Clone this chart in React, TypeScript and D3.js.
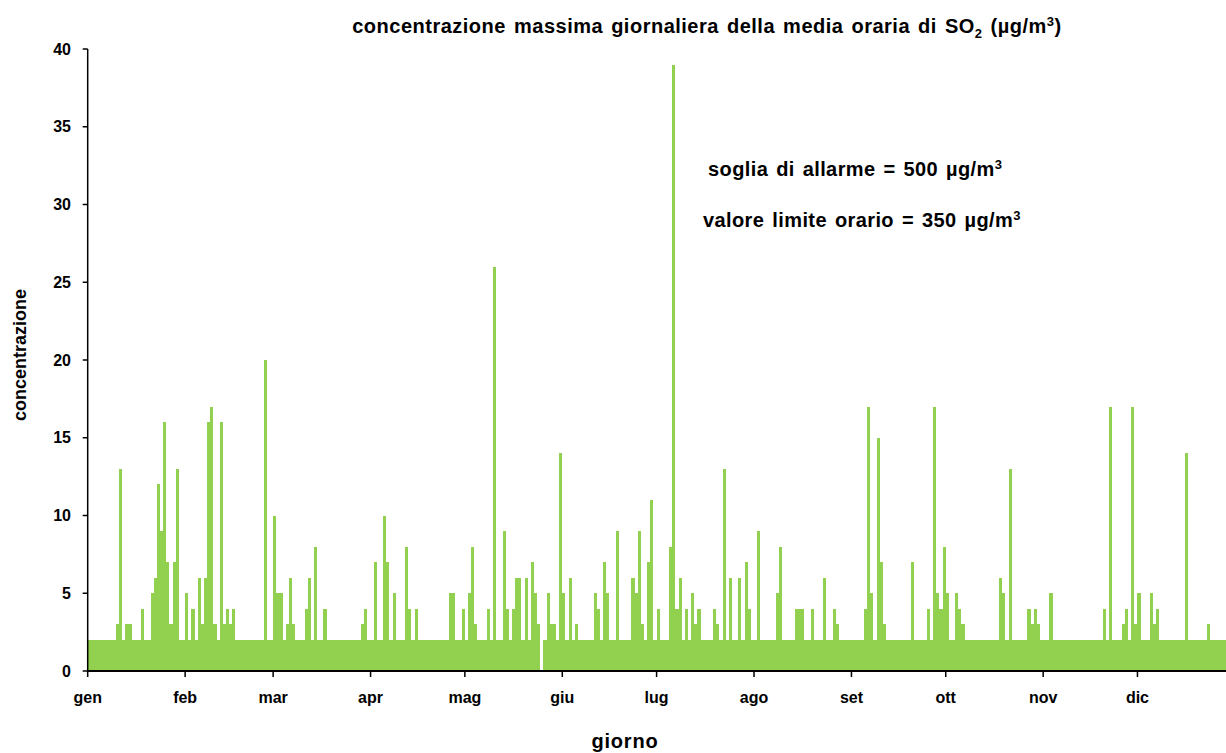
import * as d3 from "d3";

// daily max of hourly SO2 mean, one array per month
const jan = [2, 2, 2, 2, 2, 2, 2, 2, 2, 3, 13, 2, 3, 3, 2, 2, 2, 4, 2, 2, 5, 6, 12, 9, 16, 7, 3, 7, 13, 2, 2];
const feb = [5, 2, 4, 2, 6, 3, 6, 16, 17, 3, 2, 16, 3, 4, 3, 4, 2, 2, 2, 2, 2, 2, 2, 2, 2, 20, 2, 2];
const mar = [10, 5, 5, 2, 3, 6, 3, 2, 2, 2, 4, 6, 2, 8, 2, 2, 4, 2, 2, 2, 2, 2, 2, 2, 2, 2, 2, 2, 3, 4, 2];
const apr = [2, 7, 2, 2, 10, 7, 2, 5, 2, 2, 2, 8, 4, 2, 4, 2, 2, 2, 2, 2, 2, 2, 2, 2, 2, 5, 5, 2, 2, 4];
const may = [2, 5, 8, 3, 2, 2, 2, 4, 2, 26, 2, 2, 9, 4, 2, 4, 6, 6, 2, 6, 2, 7, 5, 3, 0, 2, 5, 3, 3, 2, 14];
const jun = [5, 2, 6, 2, 3, 2, 2, 2, 2, 2, 5, 4, 2, 7, 5, 2, 2, 9, 2, 2, 2, 2, 6, 5, 9, 3, 2, 7, 11, 2];
const jul = [4, 2, 2, 2, 8, 39, 4, 6, 2, 4, 2, 5, 3, 4, 2, 2, 2, 2, 4, 3, 2, 13, 2, 6, 2, 2, 6, 2, 7, 4, 2];
const aug = [2, 9, 2, 2, 2, 2, 2, 5, 8, 2, 2, 2, 2, 4, 4, 4, 2, 2, 4, 2, 2, 2, 6, 2, 2, 4, 3, 2, 2, 2, 2];
const sep = [2, 2, 2, 2, 4, 17, 5, 2, 15, 7, 3, 2, 2, 2, 2, 2, 2, 2, 2, 7, 2, 2, 2, 2, 4, 2, 17, 5, 4, 8];
const oct = [5, 2, 2, 5, 4, 3, 2, 2, 2, 2, 2, 2, 2, 2, 2, 2, 2, 6, 5, 2, 13, 2, 2, 2, 2, 2, 4, 3, 4, 3, 2];
const nov = [2, 2, 5, 2, 2, 2, 2, 2, 2, 2, 2, 2, 2, 2, 2, 2, 2, 2, 2, 4, 2, 17, 2, 2, 2, 3, 4, 2, 17, 3];
const dec = [5, 2, 2, 2, 5, 3, 4, 2, 2, 2, 2, 2, 2, 2, 2, 14, 2, 2, 2, 2, 2, 2, 3, 2, 2, 2, 2, 2, 2, 2, 2];

const months = [jan, feb, mar, apr, may, jun, jul, aug, sep, oct, nov, dec];
const monthLabels = ["gen", "feb", "mar", "apr", "mag", "giu", "lug", "ago", "set", "ott", "nov", "dic"];
const yTicks = [0, 5, 10, 15, 20, 25, 30, 35, 40];

const W = 1226;
const H = 753;
const FONT = "'Liberation Sans', Arial, Helvetica, sans-serif";
const GREEN = "#92d050";

export default function App() {
  const values = months.flat();
  const monthStarts = months.map((_, i) => d3.sum(months.slice(0, i), (m) => m.length));

  const left = 87.7;
  const dayW = 3.143;
  const x = d3.scaleLinear().domain([0, values.length]).range([left, left + values.length * dayW]);
  const y = d3.scaleLinear().domain([0, 40]).range([671, 49]);

  return (
    <svg
      width={W}
      height={H}
      style={{ position: "absolute", left: 0, top: 0, display: "block", background: "#fff" }}
      fontFamily={FONT}
    >
      {/* title */}
      <text
        x={707}
        y={33}
        textAnchor="middle"
        fontSize={20}
        fontWeight="bold"
        letterSpacing={0.5}
        wordSpacing={2}
        fill="#000"
      >
        concentrazione massima giornaliera della media oraria di SO
        <tspan fontSize={13} dy={5}>2</tspan>
        <tspan dy={-5}> (µg/m</tspan>
        <tspan fontSize={13} dy={-7}>3</tspan>
        <tspan dy={7}>)</tspan>
      </text>

      {/* bars */}
      <g shapeRendering="crispEdges">
        {values.map((v, i) => (
          <rect
            key={i}
            x={x(i)}
            y={y(v)}
            width={x(i + 1) - x(i)}
            height={y(0) - y(v)}
            fill={GREEN}
          />
        ))}
      </g>

      {/* y axis */}
      <line x1={left} x2={left} y1={y(40)} y2={y(0)} stroke="#000" strokeWidth={1.5} />
      {yTicks.map((t) => (
        <g key={t}>
          <line x1={left - 5} x2={left} y1={y(t)} y2={y(t)} stroke="#000" strokeWidth={1.5} />
          <text x={71} y={y(t) + 5.5} textAnchor="end" fontSize={16} fontWeight="bold" fill="#000">
            {t}
          </text>
        </g>
      ))}

      {/* x axis */}
      <line x1={left} x2={W} y1={y(0)} y2={y(0)} stroke="#000" strokeWidth={2} />
      {monthStarts.map((d, i) => (
        <g key={i}>
          <line x1={x(d)} x2={x(d)} y1={y(0)} y2={y(0) + 6} stroke="#000" strokeWidth={1.5} />
          <text x={x(d)} y={703} textAnchor="middle" fontSize={16} fontWeight="bold" fill="#000">
            {monthLabels[i]}
          </text>
        </g>
      ))}

      {/* axis titles */}
      <text x={625} y={748} textAnchor="middle" fontSize={20} fontWeight="bold" letterSpacing={0.8} fill="#000">
        giorno
      </text>
      <text
        transform={`translate(26,355) rotate(-90)`}
        textAnchor="middle"
        fontSize={18}
        fontWeight="bold"
        fill="#000"
      >
        concentrazione
      </text>

      {/* thresholds note */}
      <text x={708} y={176} fontSize={20} fontWeight="bold" letterSpacing={0.4} wordSpacing={2} fill="#000">
        soglia di allarme = 500 µg/m
        <tspan fontSize={13} dy={-7}>3</tspan>
      </text>
      <text x={703} y={227} fontSize={20} fontWeight="bold" letterSpacing={0.4} wordSpacing={2} fill="#000">
        valore limite orario = 350 µg/m
        <tspan fontSize={13} dy={-7}>3</tspan>
      </text>
    </svg>
  );
}
